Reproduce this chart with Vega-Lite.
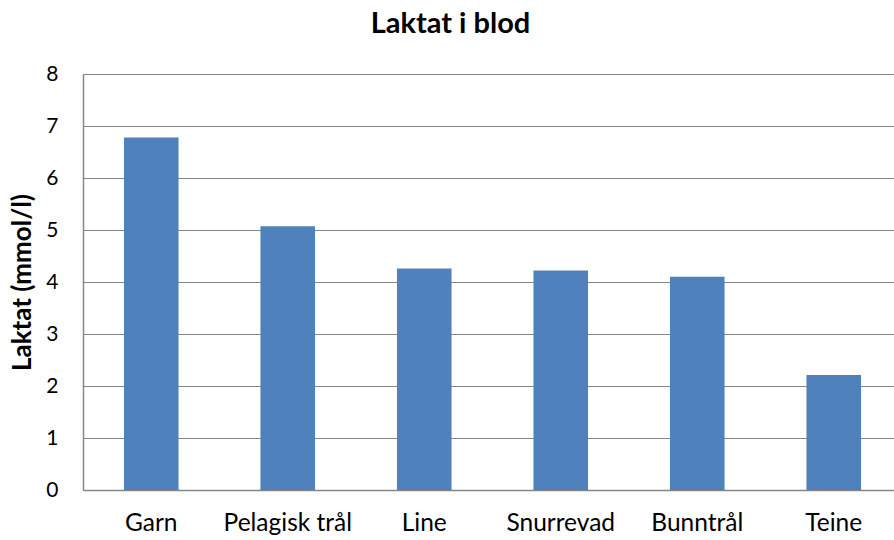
{
  "$schema": "https://vega.github.io/schema/vega-lite/v6.json",
  "autosize": {"type": "none"},
  "width": 811,
  "height": 416,
  "padding": {"left": 83, "top": 74, "right": 0, "bottom": 50},
  "background": "white",
  "title": {
    "text": "Laktat i blod",
    "font": "Lato",
    "fontSize": 29,
    "fontWeight": "bold",
    "color": "#000000",
    "anchor": "middle",
    "dx": -38,
    "offset": 24
  },
  "data": {
    "values": [
      {"redskap": "Garn", "laktat": 6.78},
      {"redskap": "Pelagisk trål", "laktat": 5.07},
      {"redskap": "Line", "laktat": 4.26},
      {"redskap": "Snurrevad", "laktat": 4.22},
      {"redskap": "Bunntrål", "laktat": 4.10},
      {"redskap": "Teine", "laktat": 2.21}
    ]
  },
  "mark": {"type": "bar", "color": "#4F81BD"},
  "encoding": {
    "x": {
      "field": "redskap",
      "type": "nominal",
      "sort": null,
      "scale": {"range": [0, 819], "paddingInner": 0.6, "paddingOuter": 0.3},
      "axis": {
        "title": null,
        "labelAngle": 0,
        "labelFont": "Lato",
        "labelFontSize": 24.5,
        "labelColor": "#000000",
        "labelPadding": 21,
        "ticks": false,
        "domainColor": "#868686",
        "domainWidth": 1.5,
        "grid": false
      }
    },
    "y": {
      "field": "laktat",
      "type": "quantitative",
      "scale": {"domain": [0, 8], "nice": false},
      "axis": {
        "title": "Laktat (mmol/l)",
        "titleFont": "Lato",
        "titleFontSize": 26,
        "titleFontWeight": "bold",
        "titleColor": "#000000",
        "titlePadding": 10,
        "values": [0, 1, 2, 3, 4, 5, 6, 7, 8],
        "labelFont": "Lato",
        "labelFontSize": 21,
        "labelColor": "#000000",
        "labelPadding": 25,
        "ticks": false,
        "domainColor": "#868686",
        "domainWidth": 1.5,
        "gridColor": "#868686",
        "gridWidth": 1.2
      }
    }
  },
  "config": {"view": {"stroke": null}}
}
